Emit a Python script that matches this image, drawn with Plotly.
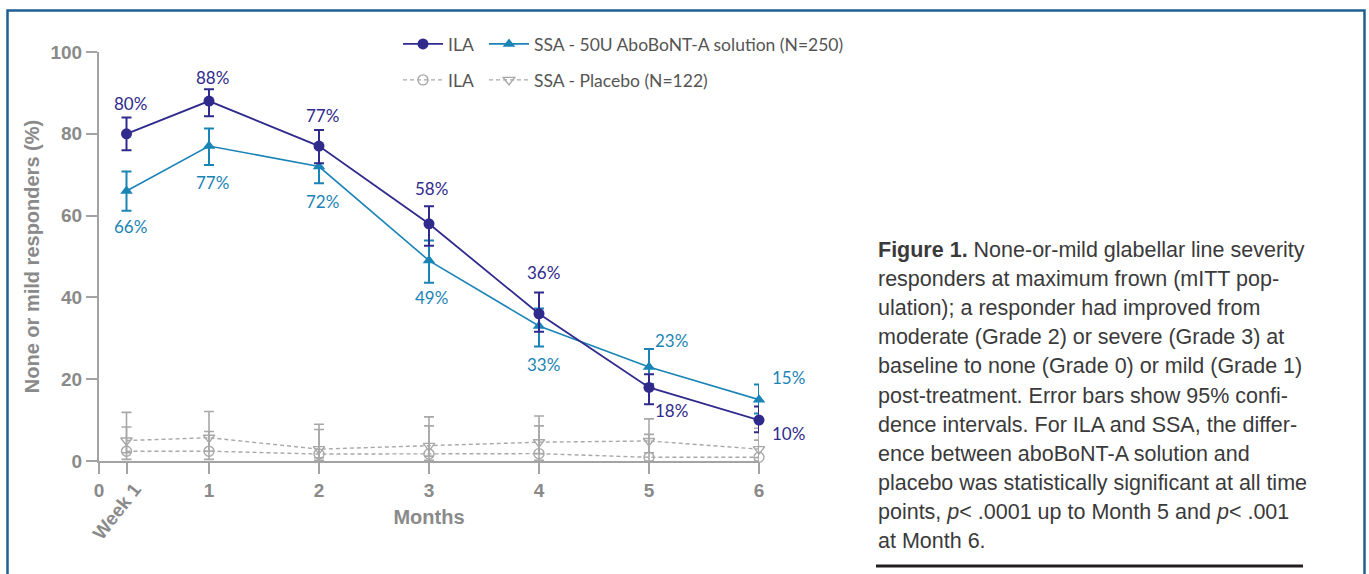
import plotly.graph_objects as go

# ---------------- data ----------------
x_pos = [0.25, 1, 2, 3, 4, 5, 6]          # Week 1, then months 1..6
x_tickvals = [0, 0.25, 1, 2, 3, 4, 5, 6]
x_ticktext = ["0", "", "1", "2", "3", "4", "5", "6"]
y_tickvals = [0, 20, 40, 60, 80, 100]

ila_active = [80, 88, 77, 58, 36, 18, 10]
ila_active_lo = [76.0, 84.3, 72.8, 52.6, 31.6, 13.9, 7.0]
ila_active_hi = [84.0, 90.9, 80.9, 62.3, 41.2, 21.2, 13.3]

ssa_active = [66, 77, 72, 49, 33, 23, 15]
ssa_active_lo = [61.2, 72.4, 67.9, 43.6, 28.0, 18.8, 11.6]
ssa_active_hi = [70.8, 81.3, 76.5, 53.9, 37.3, 27.4, 18.7]

ila_placebo = [2.4, 2.4, 1.7, 1.7, 1.8, 0.9, 0.9]
ila_placebo_lo = [0.4, 0.4, 0.2, 0.2, 0.2, 0.0, 0.0]
ila_placebo_hi = [8.3, 7.2, 7.7, 8.6, 8.6, 6.5, 5.1]

ssa_placebo = [5.0, 5.7, 2.9, 3.7, 4.6, 4.9, 2.9]
ssa_placebo_lo = [2.0, 2.4, 0.8, 1.2, 1.8, 2.0, 0.8]
ssa_placebo_hi = [11.9, 12.1, 9.0, 10.8, 11.0, 10.3, 8.0]

names = ["ILA", "SSA - 50U AboBoNT-A solution (N=250)", "ILA", "SSA - Placebo (N=122)"]

caption_lines = [
    "<b>Figure 1.</b> None-or-mild glabellar line severity",
    "responders at maximum frown (mITT pop-",
    "ulation); a responder had improved from",
    "moderate (Grade 2) or severe (Grade 3) at",
    "baseline to none (Grade 0) or mild (Grade 1)",
    "post-treatment. Error bars show 95% confi-",
    "dence intervals. For ILA and SSA, the differ-",
    "ence between aboBoNT-A solution and",
    "placebo was statistically significant at all time",
    "points, <i>p</i>< .0001 up to Month 5 and <i>p</i>< .001",
    "at Month 6.",
]

# ---------------- styles ----------------
C_ILA = "#2f2a8c"
C_SSA = "#1b84b6"
C_GRAY = "#a8a8a8"
C_AXIS = "#a3a3a3"
C_TICK = "#8a8a8a"
C_FRAME = "#1d5f94"

W, H = 1369, 574
L, R, T, B = 99, 610, 52, 113
PW, PH = W - L - R, H - T - B


def px_x(p):
    return (p - L) / PW


def px_y(p):
    return (H - B - p) / PH


def err(v, lo, hi):
    return dict(type="data", symmetric=False,
                array=[h - a for a, h in zip(v, hi)],
                arrayminus=[a - l for a, l in zip(v, lo)])


fig = go.Figure()

fig.add_trace(go.Scatter(
    x=x_pos, y=ila_placebo, name=names[2], legend="legend2", legendrank=1, legendwidth=31,
    mode="lines+markers", cliponaxis=False,
    line=dict(color=C_GRAY, width=1.4, dash="4px,3px"),
    marker=dict(symbol="circle-open", size=10, color=C_GRAY, line=dict(width=1.4)),
    error_y=dict(**err(ila_placebo, ila_placebo_lo, ila_placebo_hi), color=C_GRAY, thickness=1.6, width=5),
))
fig.add_trace(go.Scatter(
    x=x_pos, y=ssa_placebo, name=names[3], legend="legend2", legendrank=2, legendwidth=300,
    mode="lines+markers", cliponaxis=False,
    line=dict(color=C_GRAY, width=1.4, dash="4px,3px"),
    marker=dict(symbol="triangle-down-open", size=10, color=C_GRAY, line=dict(width=1.4)),
    error_y=dict(**err(ssa_placebo, ssa_placebo_lo, ssa_placebo_hi), color=C_GRAY, thickness=1.6, width=5),
))
fig.add_trace(go.Scatter(
    x=x_pos, y=ssa_active, name=names[1], legend="legend", legendrank=2, legendwidth=340,
    mode="lines+markers", cliponaxis=False,
    line=dict(color=C_SSA, width=1.6),
    marker=dict(symbol="triangle-up", size=11, color=C_SSA),
    error_y=dict(**err(ssa_active, ssa_active_lo, ssa_active_hi), color=C_SSA, thickness=2, width=5),
))
fig.add_trace(go.Scatter(
    x=x_pos, y=ila_active, name=names[0], legend="legend", legendrank=1, legendwidth=31,
    mode="lines+markers", cliponaxis=False,
    line=dict(color=C_ILA, width=1.8),
    marker=dict(symbol="circle", size=11, color=C_ILA),
    error_y=dict(**err(ila_active, ila_active_lo, ila_active_hi), color=C_ILA, thickness=2, width=5),
))

# data labels (pixel offsets relative to the point)
ila_label_off = [(4, 30), (3, 24), (3, 31), (2, 35), (4, 41), (22, -23), (29, -13)]
ssa_label_off = [(4, -35), (3, -36), (3, -35), (2, -37), (4, -38), (22, 26), (29, 22)]
annotations = []
for xv, v, (dx, dy) in zip(x_pos, ila_active, ila_label_off):
    annotations.append(dict(x=xv, y=v, xref="x", yref="y", text=f"{v}%", showarrow=False,
                            xshift=dx, yshift=dy, font=dict(family="Lato", size=17, color=C_ILA)))
for xv, v, (dx, dy) in zip(x_pos, ssa_active, ssa_label_off):
    annotations.append(dict(x=xv, y=v, xref="x", yref="y", text=f"{v}%", showarrow=False,
                            xshift=dx, yshift=dy, font=dict(family="Lato", size=17, color=C_SSA)))

# rotated "Week 1" tick label
annotations.append(dict(x=0.25, y=0, xref="x", yref="y", text="Week 1", showarrow=False,
                        textangle=-52, xanchor="center", yanchor="middle", xshift=-10, yshift=-50,
                        font=dict(family="Liberation Sans", size=19, color=C_TICK, weight="bold")))

# caption
for i, line in enumerate(caption_lines):
    annotations.append(dict(x=px_x(876), y=px_y(250 + i * 29.1), xref="paper", yref="paper",
                            text=line, showarrow=False, xanchor="left", yanchor="middle",
                            font=dict(family="Liberation Sans", size=21.5, color="#3a3a3a")))

shapes = [
    dict(type="rect", xref="paper", yref="paper", x0=px_x(7.5), x1=px_x(1364.5), y0=px_y(590), y1=px_y(10.5),
         line=dict(color=C_FRAME, width=2.5), fillcolor="rgba(0,0,0,0)", layer="above"),
    dict(type="line", xref="paper", yref="paper", x0=px_x(876), x1=px_x(1303), y0=px_y(566), y1=px_y(566),
         line=dict(color="#231f20", width=3)),
]

axis_font = dict(family="Liberation Sans", size=19, color=C_TICK, weight="bold")
legend_common = dict(orientation="h", xanchor="left", yanchor="middle", bgcolor="rgba(0,0,0,0)",
                     itemwidth=40, traceorder="normal",
                     font=dict(family="Lato", size=17.5, color="#555555"))

fig.update_layout(
    width=W, height=H,
    margin=dict(l=L, r=R, t=T, b=B, autoexpand=False),
    paper_bgcolor="white", plot_bgcolor="white",
    showlegend=True,
    legend=dict(x=px_x(398), y=px_y(44), **legend_common),
    legend2=dict(x=px_x(398), y=px_y(80), **legend_common),
    xaxis=dict(range=[0, 6], tickvals=x_tickvals, ticktext=x_ticktext,
               showline=True, linecolor=C_AXIS, linewidth=2,
               ticks="outside", ticklen=11, tickwidth=2, tickcolor=C_AXIS,
               showgrid=False, zeroline=False, tickfont=axis_font,
               title=dict(text="Months", font=dict(family="Liberation Sans", size=20, color=C_TICK, weight="bold"),
                          standoff=10)),
    yaxis=dict(range=[0, 100], tickvals=y_tickvals,
               showline=True, linecolor=C_AXIS, linewidth=2,
               ticks="outside", ticklen=11, tickwidth=2, tickcolor=C_AXIS,
               showgrid=False, zeroline=False, tickfont=axis_font,
               title=dict(text="None or mild responders (%)",
                          font=dict(family="Liberation Sans", size=20, color=C_TICK, weight="bold"),
                          standoff=5)),
    annotations=annotations,
    shapes=shapes,
)

fig.write_html("out.html", config={"displayModeBar": False},
               post_script="document.body.style.margin='0';document.body.style.overflow='hidden';")
